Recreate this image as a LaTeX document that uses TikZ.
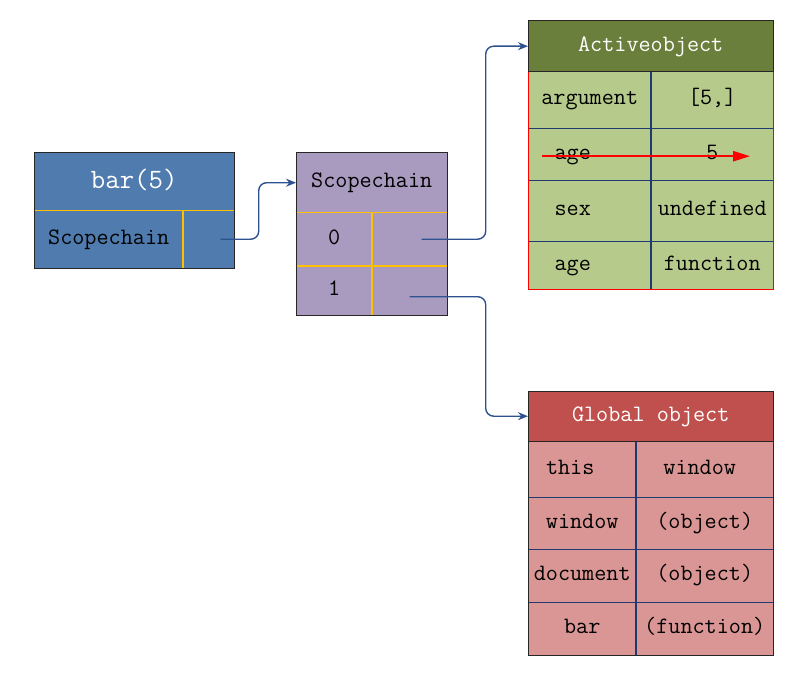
\documentclass[tikz,border=0pt]{standalone}
\usepackage{tikz}
\usetikzlibrary{arrows.meta}

\definecolor{barblue}{HTML}{4F7BAE}
\definecolor{scopepurple}{HTML}{A99BC0}
\definecolor{activehead}{HTML}{6A7F3B}
\definecolor{activebody}{HTML}{B6CA8B}
\definecolor{globalhead}{HTML}{C0504D}
\definecolor{globalbody}{HTML}{D99694}
\definecolor{gridorange}{HTML}{FFC000}
\definecolor{gridnavy}{HTML}{1F3A70}
\definecolor{linkblue}{HTML}{2E528F}

\begin{document}
\begin{tikzpicture}[x=1pt, y=-1pt,
  cell/.style={rectangle, anchor=north west, inner sep=0pt, text height=14pt, text depth=4pt, font=\fontsize{23.5}{27}\ttfamily},
  title/.style={cell, text=white},
  frame/.style={draw=black!85, line width=1pt},
  orangeline/.style={draw=gridorange, line width=1.2pt},
  navyline/.style={draw=gridnavy, line width=1.2pt},
  link/.style={draw=linkblue, line width=1.4pt, rounded corners=8pt, -{Stealth[length=10pt,width=8pt]}},
  strike/.style={draw=red, line width=2.2pt, -{Triangle[length=17pt,width=10pt]}}]

\useasboundingbox (0,0) rectangle (802,679);

% bar(5)
\node[title, fill=barblue, font=\fontsize{28}{32}\ttfamily, text height=18pt, text depth=5pt, minimum width=200pt, minimum height=57pt] (bar) at (34,153) {bar(5)};
\node[cell, fill=barblue, minimum width=149pt, minimum height=58pt] (barname) at (34,210) {Scopechain};
\node[cell, fill=barblue, minimum width=51pt, minimum height=58pt] (barptr) at (183,210) {};
\draw[orangeline] (bar.south west) -- (bar.south east) (barptr.north west) -- (barptr.south west);
\draw[frame] (bar.north west) rectangle (barptr.south east);

% scope chain
\node[cell, fill=scopepurple, minimum width=151pt, minimum height=59pt] (scope) at (296,153) {Scopechain};
\node[cell, fill=scopepurple, minimum width=76pt, minimum height=54pt] (idx0) at (296,212) {0};
\node[cell, fill=scopepurple, minimum width=75pt, minimum height=54pt] (ptr0) at (372,212) {};
\node[cell, fill=scopepurple, minimum width=76pt, minimum height=49pt] (idx1) at (296,266) {1};
\node[cell, fill=scopepurple, minimum width=75pt, minimum height=49pt] (ptr1) at (372,266) {};
\draw[orangeline] (scope.south west) -- (scope.south east) (idx1.north west) -- (ptr1.north east) (ptr0.north west) -- (ptr1.south west);
\draw[frame] (scope.north west) rectangle (ptr1.south east);

% active object
\node[title, fill=activehead, minimum width=245pt, minimum height=50pt] (active) at (528,21) {Activeobject};
\node[cell, fill=activebody, minimum width=123pt, minimum height=57pt] (argL) at (528,71) {argument};
\node[cell, fill=activebody, minimum width=122pt, minimum height=57pt] (argR) at (651,71) {[5,]};
\node[cell, fill=activebody, minimum width=123pt, minimum height=52pt] (ageL) at (528,128) {age\kern34pt};
\node[cell, fill=activebody, minimum width=122pt, minimum height=52pt] (ageR) at (651,128) {5};
\node[cell, fill=activebody, minimum width=123pt, minimum height=61pt] (sexL) at (528,180) {sex\kern34pt};
\node[cell, fill=activebody, minimum width=122pt, minimum height=61pt] (sexR) at (651,180) {undefined};
\node[cell, fill=activebody, minimum width=123pt, minimum height=48pt] (fnL) at (528,241) {age\kern34pt};
\node[cell, fill=activebody, minimum width=122pt, minimum height=48pt] (fnR) at (651,241) {function};
\draw[navyline] (argL.south west) -- (argR.south east) (ageL.south west) -- (ageR.south east)
  (sexL.south west) -- (sexR.south east) (argR.north west) -- (fnR.south west);
\draw[draw=red, line width=1pt] (argL.north west) -- (fnL.south west) -- (fnR.south east) -- (argR.north east);
\draw[frame] (active.north west) rectangle (active.south east);
\draw[strike] ([xshift=-48pt,yshift=-2pt]ageL.center) -- ([xshift=38pt,yshift=-2pt]ageR.center);

% global object
\node[title, fill=globalhead, minimum width=245pt, minimum height=50pt] (global) at (528,391) {Global object};
\node[cell, fill=globalbody, minimum width=108pt, minimum height=56pt] (thisL) at (528,441) {this\kern24pt};
\node[cell, fill=globalbody, minimum width=137pt, minimum height=56pt] (thisR) at (636,441) {window\kern10pt};
\node[cell, fill=globalbody, minimum width=108pt, minimum height=52pt] (winL) at (528,497) {window};
\node[cell, fill=globalbody, minimum width=137pt, minimum height=52pt] (winR) at (636,497) {(object)};
\node[cell, fill=globalbody, minimum width=108pt, minimum height=53pt] (docL) at (528,549) {document};
\node[cell, fill=globalbody, minimum width=137pt, minimum height=53pt] (docR) at (636,549) {(object)};
\node[cell, fill=globalbody, minimum width=108pt, minimum height=53pt] (barL) at (528,602) {bar};
\node[cell, fill=globalbody, minimum width=137pt, minimum height=53pt] (barR) at (636,602) {(function)};
\draw[navyline] (thisL.south west) -- (thisR.south east) (winL.south west) -- (winR.south east)
  (docL.south west) -- (docR.south east) (thisR.north west) -- (barR.south west);
\draw[frame] (global.north west) rectangle (barR.south east) (global.south west) -- (global.south east);

% links
\draw[link] ([xshift=12pt]barptr.center) -- ++(38,0) |- (scope.west);
\draw[link] ([xshift=12pt]ptr0.center) -- ++(64,0) |- (active.west);
\draw[link] ([yshift=-6pt]ptr1.center) -- ++(76,0) |- (global.west);
\end{tikzpicture}
\end{document}
